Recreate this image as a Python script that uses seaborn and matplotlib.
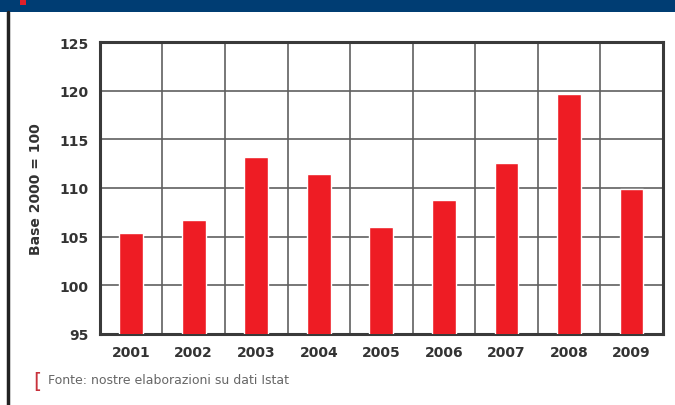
import matplotlib
matplotlib.use("Agg")
import matplotlib.pyplot as plt
import seaborn as sns
import pandas as pd
from matplotlib.patches import Rectangle
from matplotlib.lines import Line2D

years = ["2001", "2002", "2003", "2004", "2005", "2006", "2007", "2008", "2009"]
values = [105.35, 106.7, 113.2, 111.4, 106.0, 108.8, 112.6, 119.65, 109.9]
y_ticks = [95, 100, 105, 110, 115, 120, 125]

sns.set_style("white")
plt.rcParams['font.family'] = ['DejaVu Sans']

df = pd.DataFrame({"anno": years, "indice": values})

fig = plt.figure(figsize=(6.75, 4.06), dpi=100)
ax = fig.add_axes([0.148, 0.175, 0.834, 0.719])

sns.barplot(data=df, x="anno", y="indice", color="#ee1c24", saturation=1,
            width=0.38, ax=ax, zorder=3)

ax.set_ylim(95, 125)
ax.set_xlim(-0.5, len(years) - 0.5)
ax.set_yticks(y_ticks)
ax.set_xticks(range(len(years)))
ax.set_xticks([i + 0.5 for i in range(len(years) - 1)], minor=True)
ax.grid(axis="y", which="major", color="#606060", linewidth=1.2, zorder=1)
ax.grid(axis="x", which="minor", color="#606060", linewidth=1.2, zorder=1)
ax.grid(axis="x", which="major", visible=False)
ax.tick_params(axis="both", which="both", length=0, pad=8)
for lab in ax.get_xticklabels() + ax.get_yticklabels():
    lab.set_fontsize(10)
    lab.set_fontweight("bold")
    lab.set_color("#333333")
for sp in ax.spines.values():
    sp.set_visible(True)
    sp.set_color("#3a3a3a")
    sp.set_linewidth(2.2)
ax.set_xlabel("")
ax.set_ylabel("Base 2000 = 100", fontsize=10, fontweight="bold", color="#333333", labelpad=12)

# top banner and left frame
fig.patches.append(Rectangle((0, 1 - 13 / 406), 1, 13 / 406, transform=fig.transFigure,
                             facecolor="#003d73", edgecolor="none"))
fig.patches.append(Rectangle((20 / 675, 1 - 6 / 406), 6 / 675, 6 / 406, transform=fig.transFigure,
                             facecolor="#e0202a", edgecolor="none"))
fig.lines.append(Line2D([8 / 675, 8 / 675], [0, 1 - 13 / 406], transform=fig.transFigure,
                        color="#222222", linewidth=2.5))

# source note
fig.text(33 / 675, 1 - 382 / 406, "[", color="#c8323c", fontsize=15, va="center")
fig.text(48 / 675, 1 - 381 / 406, "Fonte: nostre elaborazioni su dati Istat",
         color="#666666", fontsize=9, va="center")

fig.savefig("out.png", dpi=100)
